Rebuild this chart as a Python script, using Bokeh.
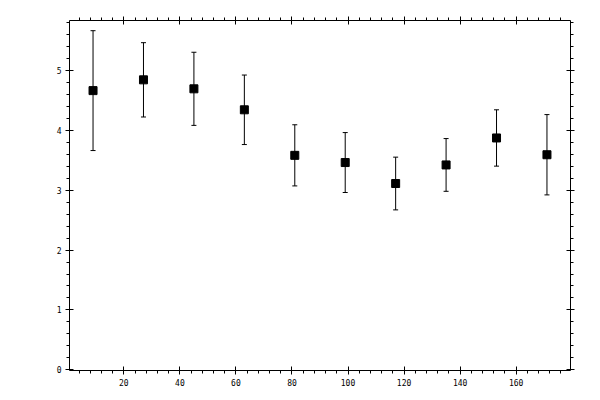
import numpy as np

from bokeh.embed import file_html
from bokeh.models import (
    ColumnDataSource,
    CustomLabelingPolicy,
    LinearAxis,
    Range1d,
    SingleIntervalTicker,
    TeeHead,
    Whisker,
)
from bokeh.plotting import figure
from bokeh.resources import INLINE

# ── Data ──────────────────────────────────────────────────────────────────────
x_vals = [9, 27, 45, 63, 81, 99, 117, 135, 153, 171]
y_vals = [4.66, 4.84, 4.69, 4.34, 3.58, 3.46, 3.11, 3.42, 3.87, 3.59]
y_err = [1.00, 0.62, 0.61, 0.58, 0.51, 0.50, 0.44, 0.44, 0.47, 0.67]

FONT = "DejaVu Sans Mono"
FONT_SIZE = "8px"

source = ColumnDataSource(dict(
    x=x_vals,
    y=y_vals,
    lower=(np.array(y_vals) - np.array(y_err)).tolist(),
    upper=(np.array(y_vals) + np.array(y_err)).tolist(),
))

p = figure(
    width=592, height=392,
    x_range=Range1d(0.6, 179.4),
    y_range=Range1d(-0.01, 5.83),
    output_backend="svg",
    toolbar_location=None,
    x_axis_location=None, y_axis_location=None,
    min_border_left=69, min_border_right=22,
    min_border_top=20, min_border_bottom=22,
)
p.outline_line_color = None
p.xgrid.visible = False
p.ygrid.visible = False


def style_axis(ax, labels=True):
    ax.axis_line_color = "black"
    ax.axis_line_width = 1
    ax.major_tick_in = 4
    ax.major_tick_out = 4
    ax.minor_tick_in = 0
    ax.minor_tick_out = 3
    ax.major_tick_line_color = "black"
    ax.minor_tick_line_color = "black"
    if labels:
        ax.major_label_text_font = FONT
        ax.major_label_text_font_size = FONT_SIZE
        ax.major_label_text_color = "black"
    else:
        # ticks only, no labels on the mirrored axes
        ax.major_label_text_font_size = "0px"
        ax.major_label_standoff = 0
        ax.major_label_policy = CustomLabelingPolicy(code="return new Set()")


# ── Axes on all four sides ────────────────────────────────────────────────────
for side in ["below", "above"]:
    ax = LinearAxis(ticker=SingleIntervalTicker(interval=20, num_minor_ticks=5))
    style_axis(ax, labels=(side == "below"))
    if side == "below":
        ax.major_label_standoff = 4
    p.add_layout(ax, side)

for side in ["left", "right"]:
    ax = LinearAxis(ticker=SingleIntervalTicker(interval=1, num_minor_ticks=5))
    style_axis(ax, labels=(side == "left"))
    if side == "left":
        ax.major_label_standoff = 4
    p.add_layout(ax, side)

# ── Error bars + points ───────────────────────────────────────────────────────
p.add_layout(Whisker(
    source=source, base="x", lower="lower", upper="upper",
    line_color="black", line_width=1,
    lower_head=TeeHead(size=5, line_color="black", line_width=1),
    upper_head=TeeHead(size=5, line_color="black", line_width=1),
))
p.scatter(x="x", y="y", source=source, marker="square", size=8,
          fill_color="black", line_color="black")

open("out.html", "w").write(file_html(p, INLINE))
